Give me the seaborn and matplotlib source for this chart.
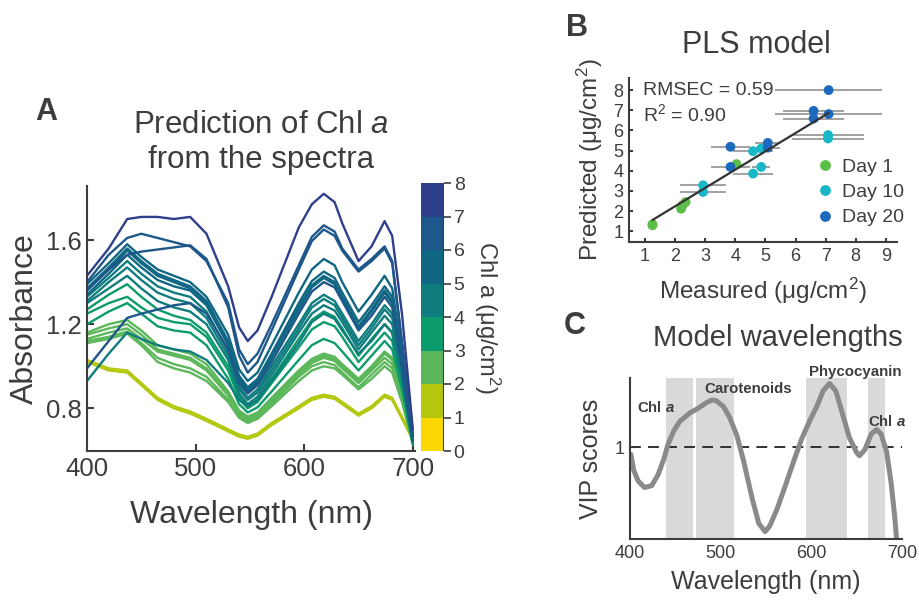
import numpy as np
import pandas as pd
import seaborn as sns
import matplotlib.pyplot as plt
from matplotlib.colors import ListedColormap, BoundaryNorm
from matplotlib.cm import ScalarMappable

# ---- panel A: spectra coloured by Chl a ----
wavelengths = [400, 420, 437, 450, 465, 480, 495, 510, 530, 540, 548, 557, 570, 595,
               607, 618, 628, 635, 650, 662, 674, 681, 690, 700]
chl_values = [1.4, 1.6, 2.0, 2.2, 2.4, 2.6, 2.8, 3.2, 3.6, 3.9, 4.2, 4.5, 4.7, 4.9,
              5.2, 5.4, 5.6, 5.9, 6.1, 6.5, 6.8, 7.8]
spectra = [
    [1.02, 0.98, 0.97, 0.91, 0.84, 0.80, 0.775, 0.74, 0.69, 0.665, 0.655, 0.67, 0.72, 0.80, 0.84, 0.855, 0.845, 0.82, 0.765, 0.80, 0.855, 0.84, 0.75, 0.65],
    [1.03, 0.99, 0.98, 0.92, 0.85, 0.81, 0.785, 0.75, 0.70, 0.675, 0.665, 0.68, 0.73, 0.81, 0.85, 0.865, 0.855, 0.83, 0.775, 0.81, 0.865, 0.85, 0.76, 0.65],
    [1.11, 1.13, 1.155, 1.10, 1.02, 0.99, 0.97, 0.93, 0.83, 0.755, 0.73, 0.75, 0.81, 0.93, 0.98, 1.00, 0.99, 0.96, 0.89, 0.94, 1.00, 0.97, 0.83, 0.63],
    [1.12, 1.14, 1.165, 1.11, 1.04, 1.01, 0.99, 0.95, 0.84, 0.765, 0.74, 0.76, 0.82, 0.95, 1.00, 1.02, 1.005, 0.97, 0.90, 0.96, 1.02, 0.99, 0.84, 0.63],
    [1.13, 1.16, 1.18, 1.13, 1.07, 1.05, 1.03, 0.98, 0.86, 0.775, 0.745, 0.765, 0.83, 0.96, 1.015, 1.04, 1.025, 0.99, 0.92, 0.98, 1.04, 1.01, 0.85, 0.63],
    [1.15, 1.18, 1.20, 1.15, 1.08, 1.06, 1.04, 0.99, 0.87, 0.78, 0.75, 0.775, 0.84, 0.97, 1.025, 1.05, 1.035, 1.00, 0.93, 0.99, 1.06, 1.03, 0.86, 0.63],
    [1.16, 1.20, 1.22, 1.17, 1.10, 1.08, 1.06, 1.01, 0.88, 0.79, 0.76, 0.78, 0.85, 0.98, 1.035, 1.06, 1.045, 1.01, 0.94, 1.00, 1.07, 1.04, 0.87, 0.63],
    [1.20, 1.26, 1.30, 1.25, 1.19, 1.17, 1.16, 1.10, 0.94, 0.82, 0.78, 0.805, 0.88, 1.03, 1.10, 1.13, 1.11, 1.07, 0.98, 1.05, 1.12, 1.08, 0.89, 0.63],
    [1.25, 1.30, 1.33, 1.28, 1.23, 1.21, 1.20, 1.14, 0.98, 0.845, 0.80, 0.83, 0.92, 1.09, 1.175, 1.21, 1.19, 1.14, 1.02, 1.09, 1.16, 1.12, 0.91, 0.64],
    [1.27, 1.34, 1.39, 1.33, 1.27, 1.24, 1.22, 1.16, 1.00, 0.86, 0.81, 0.84, 0.94, 1.13, 1.22, 1.26, 1.235, 1.18, 1.05, 1.13, 1.20, 1.16, 0.93, 0.64],
    [1.30, 1.37, 1.43, 1.37, 1.31, 1.28, 1.26, 1.20, 1.03, 0.87, 0.82, 0.855, 0.96, 1.16, 1.25, 1.29, 1.265, 1.21, 1.08, 1.16, 1.24, 1.20, 0.95, 0.64],
    [0.93, 1.06, 1.16, 1.13, 1.10, 1.08, 1.07, 1.03, 0.92, 0.84, 0.81, 0.84, 0.93, 1.11, 1.21, 1.25, 1.225, 1.17, 1.06, 1.12, 1.20, 1.16, 0.94, 0.64],
    [1.31, 1.40, 1.47, 1.41, 1.35, 1.32, 1.30, 1.23, 1.05, 0.89, 0.84, 0.875, 0.98, 1.18, 1.28, 1.32, 1.29, 1.23, 1.10, 1.18, 1.27, 1.23, 0.97, 0.64],
    [1.33, 1.42, 1.50, 1.44, 1.38, 1.35, 1.33, 1.26, 1.07, 0.905, 0.85, 0.89, 1.00, 1.20, 1.30, 1.34, 1.31, 1.25, 1.12, 1.20, 1.29, 1.25, 0.98, 0.65],
    [1.34, 1.44, 1.53, 1.47, 1.41, 1.38, 1.36, 1.29, 1.10, 0.935, 0.88, 0.92, 1.04, 1.27, 1.375, 1.42, 1.39, 1.32, 1.18, 1.26, 1.35, 1.30, 1.00, 0.65],
    [1.36, 1.46, 1.55, 1.49, 1.43, 1.40, 1.37, 1.30, 1.11, 0.945, 0.89, 0.93, 1.05, 1.28, 1.385, 1.43, 1.40, 1.33, 1.19, 1.27, 1.36, 1.31, 1.01, 0.65],
    [1.37, 1.47, 1.56, 1.50, 1.44, 1.41, 1.38, 1.31, 1.12, 0.955, 0.90, 0.94, 1.06, 1.30, 1.405, 1.45, 1.42, 1.35, 1.21, 1.29, 1.38, 1.33, 1.02, 0.65],
    [1.39, 1.49, 1.58, 1.52, 1.46, 1.43, 1.40, 1.33, 1.15, 0.985, 0.93, 0.97, 1.10, 1.35, 1.46, 1.51, 1.48, 1.40, 1.26, 1.34, 1.43, 1.37, 1.05, 0.66],
    [0.99, 1.12, 1.23, 1.25, 1.27, 1.29, 1.30, 1.25, 1.08, 0.92, 0.87, 0.91, 1.02, 1.25, 1.355, 1.40, 1.375, 1.31, 1.17, 1.24, 1.33, 1.28, 0.99, 0.65],
    [1.36, 1.46, 1.53, 1.545, 1.555, 1.565, 1.575, 1.51, 1.28, 1.05, 0.97, 1.02, 1.17, 1.46, 1.595, 1.65, 1.62, 1.55, 1.45, 1.50, 1.56, 1.49, 1.10, 0.67],
    [1.40, 1.53, 1.61, 1.63, 1.61, 1.59, 1.57, 1.50, 1.30, 1.08, 1.01, 1.06, 1.20, 1.48, 1.615, 1.67, 1.64, 1.56, 1.46, 1.51, 1.57, 1.50, 1.12, 0.68],
    [1.43, 1.56, 1.70, 1.71, 1.71, 1.70, 1.71, 1.63, 1.38, 1.185, 1.12, 1.17, 1.33, 1.66, 1.77, 1.82, 1.78, 1.68, 1.50, 1.57, 1.69, 1.62, 1.25, 0.70],
]
chl_bin_colors = ['#FCD700', '#B3C80E', '#5CB75A', '#0C9B6C', '#0F7C7E', '#0F6784', '#1E5789', '#2E3F8B']
chl_ticks = [0, 1, 2, 3, 4, 5, 6, 7, 8]

# ---- panel B: PLS model ----
day1_x = [1.25, 1.25, 2.20, 2.25, 2.35, 4.04]
day1_y = [1.35, 1.30, 2.12, 2.30, 2.45, 4.33]
day10_x = [2.93, 2.93, 4.59, 4.59, 4.86, 4.86, 7.08, 7.08]
day10_y = [3.28, 2.95, 4.97, 3.86, 5.10, 4.19, 5.77, 5.60]
day10_xerr = [0.75, 0.75, 0.66, 0.66, 0.30, 0.30, 1.20, 1.20]
day20_x = [3.84, 3.84, 5.08, 5.08, 6.60, 6.60, 7.10, 7.10]
day20_y = [5.19, 4.19, 5.38, 5.15, 6.97, 6.59, 6.81, 8.00]
day20_xerr = [0.65, 0.65, 0.42, 0.42, 1.00, 1.00, 1.77, 1.77]
day_colors = {'Day 1': '#5BBE46', 'Day 10': '#19B8C9', 'Day 20': '#1C69BE'}

# ---- panel C: VIP scores ----
vip_wl = [401, 404, 409, 416, 424, 431, 437, 442, 448, 455, 466, 475, 484, 490, 495, 503,
          510, 518, 525, 535, 542, 549, 554, 562, 571, 580, 589, 598, 606, 613, 620, 627,
          635, 642, 650, 653, 659, 666, 672, 677, 683, 688, 692, 694]
vip_score = [0.92, 0.75, 0.63, 0.56, 0.58, 0.70, 0.86, 1.03, 1.17, 1.28, 1.37, 1.42, 1.48, 1.51, 1.505, 1.44,
             1.32, 1.12, 0.86, 0.43, 0.17, 0.08, 0.14, 0.32, 0.57, 0.83, 1.08, 1.28, 1.44, 1.61, 1.69, 1.61,
             1.34, 1.10, 0.94, 0.905, 0.97, 1.14, 1.19, 1.14, 0.95, 0.61, 0.24, 0.0]
vip_bands = [(440, 469), (473, 515), (594, 639), (663, 681)]
band_labels = ['Chl $\\mathbfit{a}$', 'Carotenoids', 'Phycocyanin', 'Chl $\\mathbfit{a}$']
band_label_pos = [(429, 1.43), (530, 1.63), (648, 1.81), (684, 1.28)]

sns.set_theme(style='ticks')
ink = '#3d3d3d'
plt.rcParams['font.family'] = ['Liberation Sans', 'DejaVu Sans']
plt.rcParams['mathtext.fontset'] = 'custom'
plt.rcParams['mathtext.rm'] = 'Liberation Sans'
plt.rcParams['mathtext.it'] = 'Liberation Sans:italic'
plt.rcParams['mathtext.bf'] = 'Liberation Sans:bold'
plt.rcParams['mathtext.bfit'] = 'Liberation Sans:bold:italic'
plt.rcParams['text.color'] = ink
plt.rcParams['axes.labelcolor'] = ink
plt.rcParams['xtick.color'] = ink
plt.rcParams['ytick.color'] = ink
plt.rcParams['axes.edgecolor'] = ink

W, H = 919, 600
fig = plt.figure(figsize=(W / 100, H / 100), dpi=100)


def box(l, t, r, b):
    return [l / W, 1 - b / H, (r - l) / W, (b - t) / H]


def style(ax, size, length):
    sns.despine(ax=ax)
    for s in ['left', 'bottom']:
        ax.spines[s].set_linewidth(1.5)
    ax.tick_params(direction='in', length=length, width=1.5, labelsize=size, pad=4)


# panel A
axA = fig.add_axes(box(87, 186, 415, 451))
rows = []
for i, (c, s) in enumerate(zip(chl_values, spectra)):
    for w, a in zip(wavelengths, s):
        rows.append({'sample': i, 'wl': w, 'abs': a, 'chl': c})
spec_df = pd.DataFrame(rows)
pal = {i: chl_bin_colors[int(c)] for i, c in enumerate(chl_values)}
sns.lineplot(data=spec_df, x='wl', y='abs', hue='sample', palette=pal, legend=False,
             sort=False, linewidth=1.7, ax=axA)
axA.set_xlim(400, 702)
axA.set_ylim(0.597, 1.857)
axA.set_xticks([400, 500, 600, 700])
axA.set_yticks([0.8, 1.2, 1.6])
style(axA, 18.5, 5)
axA.set_xlabel('Wavelength (nm)', fontsize=23, labelpad=14)
axA.set_ylabel('Absorbance', fontsize=23, labelpad=4)

cax = fig.add_axes(box(421, 183, 444, 451))
cmap = ListedColormap(chl_bin_colors)
norm = BoundaryNorm(chl_ticks, cmap.N)
cb = fig.colorbar(ScalarMappable(norm=norm, cmap=cmap), cax=cax, ticks=chl_ticks)
cb.outline.set_visible(False)
cax.axvline(1, color=ink, lw=1.5)
cax.tick_params(direction='out', length=5, width=1.2, labelsize=14, pad=2, colors=ink)
cb.set_label('Chl a (μg/cm$^{\\mathrm{2}}$)', rotation=270, fontsize=17, labelpad=27)

fig.text(46 / W, 1 - 112 / H, 'A', fontsize=22, fontweight='bold', ha='center', va='center')
fig.text(261 / W, 1 - 133 / H, 'Prediction of Chl $\\it{a}$', fontsize=22.5, ha='center', va='baseline')
fig.text(261 / W, 1 - 168 / H, 'from the spectra', fontsize=22.5, ha='center', va='baseline')

# panel B
axB = fig.add_axes(box(629, 78, 897, 242))
axB.errorbar(day10_x, day10_y, xerr=day10_xerr, fmt='none', ecolor='#9a9a9a', elinewidth=1.3, zorder=1)
axB.errorbar(day20_x, day20_y, xerr=day20_xerr, fmt='none', ecolor='#9a9a9a', elinewidth=1.3, zorder=1)
pls_df = pd.DataFrame({
    'measured': day1_x + day10_x + day20_x,
    'predicted': day1_y + day10_y + day20_y,
    'day': ['Day 1'] * len(day1_x) + ['Day 10'] * len(day10_x) + ['Day 20'] * len(day20_x),
})
sns.scatterplot(data=pls_df, x='measured', y='predicted', hue='day', palette=day_colors,
                s=50, linewidth=0, ax=axB, zorder=3)
sns.regplot(data=pls_df, x='measured', y='predicted', scatter=False, ci=None, truncate=True,
            color='#333333', line_kws={'linewidth': 1.6, 'zorder': 4}, ax=axB)
axB.set_xlim(0.47, 9.37)
axB.set_ylim(0.47, 8.6)
axB.set_xticks(range(1, 10))
axB.set_yticks(range(1, 9))
style(axB, 13, 3)
axB.set_xlabel('Measured (μg/cm$^{\\mathrm{2}}$)', fontsize=17.5, labelpad=8)
axB.set_ylabel('Predicted (μg/cm$^{\\mathrm{2}}$)', fontsize=17.5, labelpad=6)
axB.text(0.92, 8.0, 'RMSEC = 0.59', fontsize=14, va='center', ha='left')
axB.text(0.92, 6.8, 'R$^{\\mathrm{2}}$ = 0.90', fontsize=14, va='center', ha='left')
axB.legend(loc='upper left', bbox_to_anchor=(0.672, 0.56), frameon=False, fontsize=14,
           handlelength=0.8, handletextpad=0.5, labelspacing=0.4, borderaxespad=0, markerscale=1.1)
fig.text(577 / W, 1 - 28 / H, 'B', fontsize=22, fontweight='bold', ha='center', va='center')
fig.text(756 / W, 1 - 53 / H, 'PLS model', fontsize=22, ha='center', va='baseline')

# panel C
axC = fig.add_axes(box(630, 378, 902, 539))
for lo, hi in vip_bands:
    axC.axvspan(lo, hi, color='#d9d9d9', lw=0, zorder=0)
axC.axhline(1, color='#222222', lw=1.3, ls=(0, (6, 4)), zorder=1)
sns.lineplot(x=vip_wl, y=vip_score, color='#8a8a8a', linewidth=3.6, ax=axC, zorder=2)
for lab, (x, y) in zip(band_labels, band_label_pos):
    axC.text(x, y, lab, fontsize=10.8, fontweight='bold', ha='center', va='center', clip_on=False)
axC.set_xlim(400, 700)
axC.set_ylim(0, 1.75)
axC.set_xticks([400, 500, 600, 700])
axC.set_yticks([1])
style(axC, 13, 0)
axC.set_xlabel('Wavelength (nm)', fontsize=18, labelpad=6)
axC.set_ylabel('VIP scores', fontsize=18, labelpad=8)
fig.text(575 / W, 1 - 326 / H, 'C', fontsize=22, fontweight='bold', ha='center', va='center')
fig.text(778 / W, 1 - 346 / H, 'Model wavelengths', fontsize=21, ha='center', va='baseline')

fig.savefig('out.png', dpi=100)
